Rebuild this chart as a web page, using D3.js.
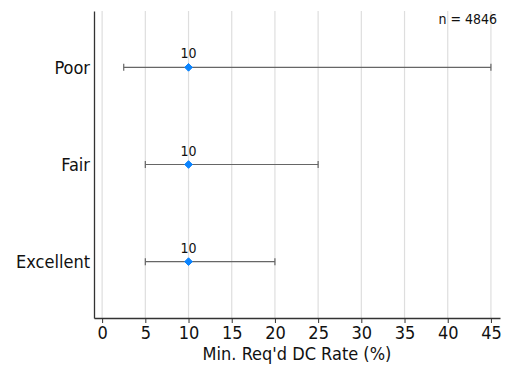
<!DOCTYPE html>
<html>
<head>
<meta charset="UTF-8">
<title>Min. Req'd DC Rate</title>
<script src="https://cdn.jsdelivr.net/npm/d3@7"></script>
<style>
    body { margin: 0; background: #fff; }
    svg text { font-family: 'DejaVu Sans Condensed', 'DejaVu Sans', sans-serif; fill: #111; }
    .tick text { font-size: 18px; }
</style>
</head>
<body>
<div id="chart"></div>
<script>
    // data
    const categories = ["Poor", "Fair", "Excellent"];
    const medians = [10, 10, 10];
    const lows = [2.5, 5, 5];
    const highs = [45, 25, 20];
    const xTicks = [0, 5, 10, 15, 20, 25, 30, 35, 40, 45];
    const nLabel = "n = 4846";

    const width = 506, height = 367;
    const margin = { top: 11, right: 6, bottom: 49, left: 94 };

    const svg = d3.select("#chart").append("svg")
        .attr("width", width)
        .attr("height", height);

    const x = d3.scaleLinear()
        .domain([-0.94, 46.05])
        .range([margin.left, width - margin.right]);

    const y = d3.scalePoint()
        .domain(categories)
        .range([margin.top, height - margin.bottom])
        .padding(0.58);

    // vertical grid
    svg.append("g")
        .selectAll("line")
        .data(xTicks)
        .join("line")
        .attr("x1", d => x(d)).attr("x2", d => x(d))
        .attr("y1", margin.top).attr("y2", height - margin.bottom)
        .attr("stroke", "#dedede")
        .attr("stroke-width", 1.2);

    // x axis
    const xAxis = svg.append("g")
        .attr("transform", `translate(0,${height - margin.bottom})`)
        .call(d3.axisBottom(x).tickValues(xTicks).tickSize(5).tickSizeOuter(0).tickPadding(3));
    xAxis.select(".domain").attr("stroke", "#333").attr("stroke-width", 1.3);
    xAxis.selectAll(".tick line").attr("stroke", "#333");

    // y axis
    const yAxis = svg.append("g")
        .attr("transform", `translate(${margin.left},0)`)
        .call(d3.axisLeft(y).tickSize(0).tickPadding(4));
    yAxis.select(".domain").attr("stroke", "#333").attr("stroke-width", 1.3);
    yAxis.selectAll(".tick text").attr("dy", "0.35em");

    // axis title
    svg.append("text")
        .attr("x", 297)
        .attr("y", 360)
        .attr("text-anchor", "middle")
        .attr("font-size", 18)
        .text("Min. Req'd DC Rate (%)");

    // sample size
    svg.append("text")
        .attr("x", width - 9)
        .attr("y", 24)
        .attr("text-anchor", "end")
        .attr("font-size", 14)
        .text(nLabel);

    const rows = categories.map((c, i) => ({ cat: c, med: medians[i], lo: lows[i], hi: highs[i] }));

    const g = svg.append("g")
        .selectAll("g")
        .data(rows)
        .join("g");

    // whiskers
    g.append("line")
        .attr("x1", d => x(d.lo)).attr("x2", d => x(d.hi))
        .attr("y1", d => y(d.cat)).attr("y2", d => y(d.cat))
        .attr("stroke", "#666").attr("stroke-width", 1.2);
    g.append("line")
        .attr("x1", d => x(d.lo)).attr("x2", d => x(d.lo))
        .attr("y1", d => y(d.cat) - 3.5).attr("y2", d => y(d.cat) + 3.5)
        .attr("stroke", "#666").attr("stroke-width", 1.2);
    g.append("line")
        .attr("x1", d => x(d.hi)).attr("x2", d => x(d.hi))
        .attr("y1", d => y(d.cat) - 3.5).attr("y2", d => y(d.cat) + 3.5)
        .attr("stroke", "#666").attr("stroke-width", 1.2);

    // median diamonds
    g.append("path")
        .attr("d", d3.symbol(d3.symbolDiamond2, 38))
        .attr("transform", d => `translate(${x(d.med)},${y(d.cat)})`)
        .attr("fill", "#0a84ff")
        .attr("stroke", "#0a84ff")
        .attr("stroke-width", 1)
        .attr("stroke-linejoin", "round");

    // value labels
    g.append("text")
        .attr("x", d => x(d.med))
        .attr("y", d => y(d.cat) - 9)
        .attr("text-anchor", "middle")
        .attr("font-size", 14)
        .text(d => d.med);
</script>
</body>
</html>
